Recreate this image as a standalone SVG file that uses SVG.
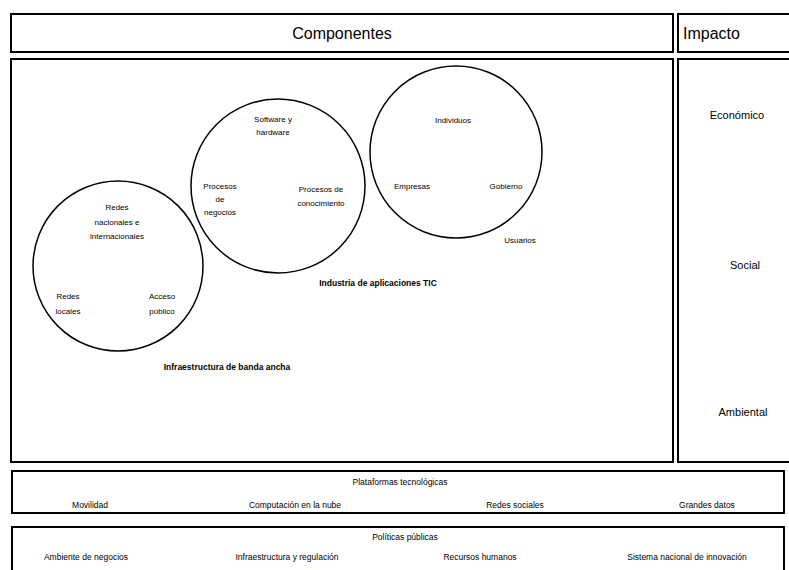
<svg xmlns="http://www.w3.org/2000/svg" width="789" height="570" viewBox="0 0 789 570">
<style>
.box{fill:#fff;stroke:#000;stroke-width:2}
.circ{fill:none;stroke:#000;stroke-width:1.5}
text{font-family:"Liberation Sans",Arial,sans-serif;fill:#000}
.h{font-size:16px}
.imp{font-size:11px;text-anchor:middle}
.t{font-size:8px;text-anchor:middle}
.lbl{font-size:8.5px;font-weight:bold;text-anchor:middle}
.s{font-size:8.5px;text-anchor:middle}
</style>
<rect width="789" height="570" fill="#fff"/>
<g id="header-componentes">
<rect class="box" x="11" y="14" width="662" height="38"/>
<text class="h" x="342" y="39" text-anchor="middle">Componentes</text>
</g>
<g id="header-impacto">
<rect class="box" x="678" y="14" width="120" height="38"/>
<text class="h" x="683" y="39">Impacto</text>
</g>
<g id="componentes">
<rect class="box" x="11" y="59" width="662" height="403"/>
</g>
<g id="impacto">
<rect class="box" x="678" y="59" width="120" height="403"/>
<text class="imp" x="737" y="119">Económico</text>
<text class="imp" x="745" y="269">Social</text>
<text class="imp" x="743" y="416">Ambiental</text>
</g>
<g id="infraestructura">
<circle class="circ" cx="118" cy="266" r="85"/>
<text class="t" x="117" y="210">Redes</text>
<text class="t" x="117" y="225">nacionales e</text>
<text class="t" x="117" y="239">internacionales</text>
<text class="t" x="68" y="299">Redes</text>
<text class="t" x="68" y="314">locales</text>
<text class="t" x="162" y="299">Acceso</text>
<text class="t" x="162" y="314">público</text>
<text class="lbl" x="227" y="370">Infraestructura de banda ancha</text>
</g>
<g id="industria">
<circle class="circ" cx="278" cy="186" r="87"/>
<text class="t" x="273" y="122">Software y</text>
<text class="t" x="273" y="135">hardware</text>
<text class="t" x="220" y="189">Procesos</text>
<text class="t" x="220" y="202">de</text>
<text class="t" x="220" y="215">negocios</text>
<text class="t" x="321" y="192">Procesos de</text>
<text class="t" x="321" y="206">conocimiento</text>
<text class="lbl" x="378" y="286">Industria de aplicaciones TIC</text>
</g>
<g id="usuarios">
<circle class="circ" cx="456" cy="152" r="86"/>
<text class="t" x="453" y="123">Individuos</text>
<text class="t" x="412" y="189">Empresas</text>
<text class="t" x="506" y="189">Gobierno</text>
<text class="t" x="520" y="243">Usuarios</text>
</g>
<g id="plataformas">
<rect class="box" x="12" y="471" width="772" height="42"/>
<text class="s" x="400" y="485">Plataformas tecnológicas</text>
<text class="s" x="90" y="508">Movilidad</text>
<text class="s" x="295" y="508">Computación en la nube</text>
<text class="s" x="515" y="508">Redes sociales</text>
<text class="s" x="707" y="508">Grandes datos</text>
</g>
<g id="politicas">
<rect class="box" x="12" y="527" width="772" height="50"/>
<text class="s" x="405" y="540">Políticas públicas</text>
<text class="s" x="86" y="560">Ambiente de negocios</text>
<text class="s" x="287" y="560">Infraestructura y regulación</text>
<text class="s" x="480" y="560">Recursos humanos</text>
<text class="s" x="687" y="560">Sistema nacional de innovación</text>
</g>
<g id="connectors"/>
</svg>
